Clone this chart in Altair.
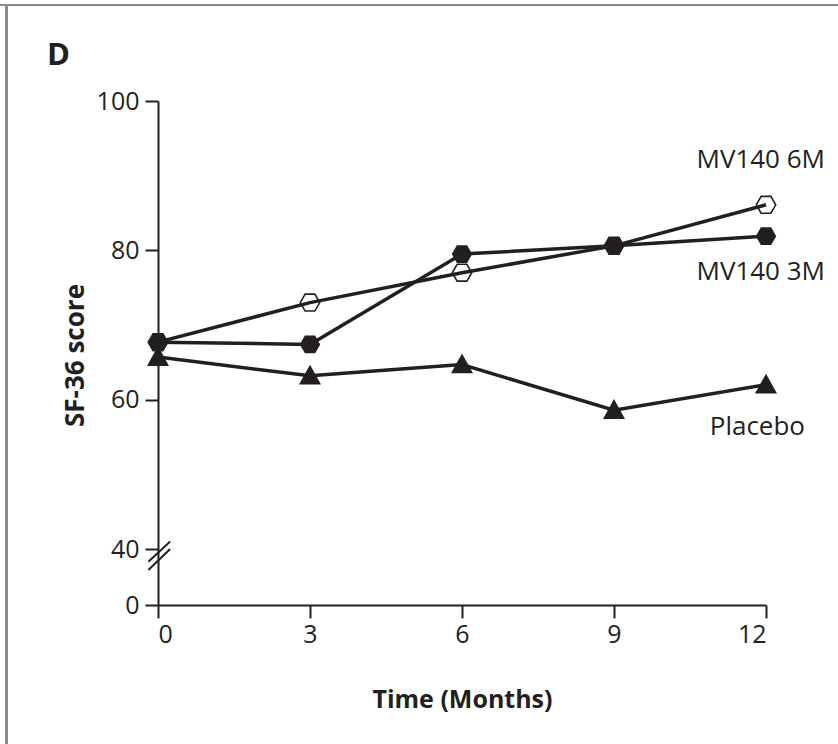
import altair as alt
import pandas as pd

# Visit months and SF-36 scores per group
months = [0, 3, 6, 9, 12]
placebo = [65.7, 63.2, 64.7, 58.6, 62.0]
mv140_3m = [67.7, 67.4, 79.5, 80.6, 81.9]
mv140_6m = [67.7, 73.0, 77.0, 80.6, 86.1]

series_names = ["Placebo", "MV140 3M", "MV140 6M"]
series_values = [placebo, mv140_3m, mv140_6m]

# Axis: the segment between 0 and 40 is compressed (broken axis);
# the "0" baseline sits at 32.5 on the drawing scale.
y_ticks = [32.5, 40, 60, 80, 100]
x_ticks = [0, 3, 6, 9, 12]

INK = "#231f20"
FONT = "Open Sans"

rows = []
for name, vals in zip(series_names, series_values):
    for m, v in zip(months, vals):
        rows.append({"month": m, "score": v, "group": name})
df = pd.DataFrame(rows)

x_enc = alt.X(
    "month:Q",
    scale=alt.Scale(domain=[0, 12], nice=False, zero=False),
    axis=alt.Axis(
        values=x_ticks,
        title="Time (Months)",
        titleY=102,
        titleBaseline="alphabetic",
        labelPadding=4,
    ),
)
y_enc = alt.Y(
    "score:Q",
    scale=alt.Scale(domain=[32.5, 100], nice=False, zero=False),
    axis=alt.Axis(
        values=y_ticks,
        labelExpr="datum.value < 35 ? '0' : datum.label",
        title="SF-36 score",
        titleAngle=-90,
        titleX=-75,
        titleY=254,
        titleAlign="center",
        titleBaseline="alphabetic",
        titleFontSize=26,
        labelPadding=6,
    ),
)

base = alt.Chart(df)

lines = base.mark_line(color=INK, strokeWidth=3.5).encode(
    x=x_enc, y=y_enc, detail="group:N"
)

hexagon = "M-1,0L-0.5,-0.866L0.5,-0.866L1,0L0.5,0.866L-0.5,0.866Z"
triangle = "M0,-1L1,0.8L-1,0.8Z"

open_hex = base.transform_filter(alt.datum.group == "MV140 6M").mark_point(
    shape=hexagon, size=380, filled=False, stroke=INK, strokeWidth=1.6, opacity=1
).encode(x="month:Q", y="score:Q")

filled_hex = base.transform_filter(alt.datum.group == "MV140 3M").mark_point(
    shape=hexagon, size=420, filled=True, fill=INK, opacity=1
).encode(x="month:Q", y="score:Q")

triangles = base.transform_filter(alt.datum.group == "Placebo").mark_point(
    shape=triangle, size=484, filled=True, fill=INK, opacity=1
).encode(x="month:Q", y="score:Q")

# Series labels placed next to the final (12-month) points
label_df = pd.DataFrame({
    "month": [12, 12, 12],
    "score": [mv140_6m[-1], mv140_3m[-1], placebo[-1]],
    "text": ["MV140 6M", "MV140 3M", "Placebo"],
})
label_style = {
    "MV140 6M": dict(dx=59, dy=-37),
    "MV140 3M": dict(dx=59, dy=44),
    "Placebo": dict(dx=39, dy=50),
}
labels = []
for _, r in label_df.iterrows():
    labels.append(
        alt.Chart(pd.DataFrame([r])).mark_text(
            align="right", baseline="alphabetic", font=FONT, fontSize=26,
            color=INK, **label_style[r["text"]]
        ).encode(x="month:Q", y="score:Q", text="text:N")
    )

# Axis-break marks: two short parallel slashes across the y axis
brk = pd.DataFrame({
    "x": [-0.19, -0.19],
    "x2": [0.24, 0.24],
    "y": [38.3, 37.2],
    "y2": [41.0, 40.0],
})
breaks = alt.Chart(brk).mark_rule(color=INK, strokeWidth=2).encode(
    x="x:Q", x2="x2:Q", y="y:Q", y2="y2:Q"
)

# Panel letter and panel frame
panel_letter = alt.Chart(pd.DataFrame({"t": ["D"]})).mark_text(
    align="left", baseline="alphabetic", font=FONT, fontSize=31,
    fontWeight="bold", color=INK
).encode(x=alt.value(-111), y=alt.value(-36), text="t:N")

frame_top = alt.Chart(pd.DataFrame({"a": [0]})).mark_rule(
    color="#8c8c8c", strokeWidth=2
).encode(x=alt.value(-158), x2=alt.value(680), y=alt.value(-96))

frame_left = alt.Chart(pd.DataFrame({"a": [0]})).mark_rule(
    color="#8c8c8c", strokeWidth=3
).encode(x=alt.value(-151.5), y=alt.value(-96), y2=alt.value(643))

chart = alt.layer(
    frame_top, frame_left, lines, breaks, open_hex, filled_hex, triangles,
    panel_letter, *labels
).properties(
    width=608,
    height=504,
    padding={"left": 158, "top": 101, "right": 72, "bottom": 139},
    autosize=alt.AutoSizeParams(type="none"),
    background="white",
).configure_view(
    stroke=None
).configure_axis(
    grid=False,
    domainColor=INK,
    domainWidth=2,
    tickColor=INK,
    tickWidth=2,
    tickSize=13,
    labelFont=FONT,
    labelFontSize=25,
    labelColor=INK,
    titleFont=FONT,
    titleFontSize=25,
    titleFontWeight="bold",
    titleColor=INK,
)

chart.save("out.html", embed_options={"renderer": "svg", "actions": False})
